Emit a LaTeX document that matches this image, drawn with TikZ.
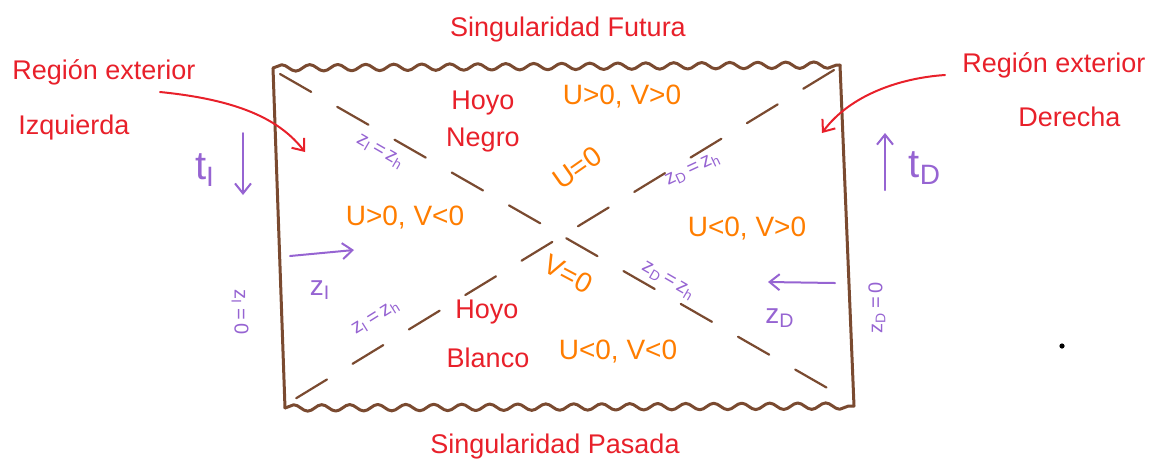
\documentclass[tikz,border=0pt]{standalone}
\usepackage{fontspec}
\setmainfont{Liberation Sans}
\usetikzlibrary{decorations.pathmorphing,arrows.meta}
\definecolor{brn}{RGB}{122,74,48}
\definecolor{rd}{RGB}{232,32,42}
\definecolor{org}{RGB}{255,125,0}
\definecolor{pur}{RGB}{150,100,210}
\begin{document}
\begin{tikzpicture}[x=0.5pt,y=-0.5pt,
  edge/.style={brn, line width=1.5pt, line cap=round, line join=round},
  wavy/.style={edge, decorate, decoration={snake, amplitude=1.6pt, segment length=14pt}},
  horizon/.style={brn, line width=1.1pt, dash pattern=on 18pt off 15pt, line cap=round},
  rlab/.style={rd, font=\fontsize{13.5}{15}\selectfont, inner sep=0pt},
  olab/.style={org, font=\fontsize{14}{16}\selectfont, inner sep=0pt},
  tlab/.style={pur, font=\fontsize{20}{22}\selectfont, inner sep=0pt},
  plab/.style={pur, font=\fontsize{14}{16}\selectfont, inner sep=0pt},
  slab/.style={pur, font=\fontsize{10}{12}\selectfont, inner sep=0pt},
  parrow/.style={pur, line width=1pt, line cap=round, -{Straight Barb[length=5pt,width=8pt]}},
  rarrow/.style={rd, line width=1pt, line cap=round, -{Straight Barb[length=5pt,width=8pt]}}]
\useasboundingbox (0,0) rectangle (1168,468);
% corners
\coordinate (TL) at (273,68);
\coordinate (TR) at (840,65);
\coordinate (BR) at (854,406);
\coordinate (BL) at (285,408);
% frame
\draw[edge] (TL) -- (BL);
\draw[edge] (TR) -- (BR);
\draw[wavy] (TL) -- (TR);
\draw[wavy] (BL) -- (BR);
% horizons
\coordinate (d1a) at (280,74);
\coordinate (d1b) at (850,401);
\coordinate (d2a) at (834,70);
\coordinate (d2b) at (290,402);
\draw[horizon] (d1a) -- (d1b);
\draw[horizon] (d2a) -- (d2b);
% red labels
\node[rlab] (sf) at (568,30) {Singularidad Futura};
\node[rlab] (sp) at (555,447) {Singularidad Pasada};
\node[rlab, anchor=west] (rei1) at (12,72) {Región exterior};
\node[rlab, anchor=west] (rei2) at (18,128) {Izquierda};
\node[rlab, anchor=west] (red1) at (962,65) {Región exterior};
\node[rlab, anchor=west] (red2) at (1018,117) {Derecha};
\node[rlab] (hn1) at (483,103) {Hoyo};
\node[rlab] (hn2) at (483,140) {Negro};
\node[rlab] (hb1) at (487,312) {Hoyo};
\node[rlab] (hb2) at (488,358) {Blanco};
\coordinate (ral) at (160,92);
\coordinate (rar) at (945,75);
\coordinate (ratl) at (305,152);
\coordinate (ratr) at (822,133);
\draw[rarrow] (ral) .. controls (240,100) and (280,120) .. (ratl);
\draw[rarrow] (rar) .. controls (900,78) and (850,95) .. (ratr);
% orange labels
\node[olab] (upvp) at (622,97) {U>0, V>0};
\node[olab, rotate=35] (u0) at (577,168) {U=0};
\node[olab, rotate=-28] (v0) at (568,274) {V=0};
\node[olab] (upvn) at (405,218) {U>0, V<0};
\node[olab] (unvp) at (747,229) {U<0, V>0};
\node[olab] (unvn) at (618,352) {U<0, V<0};
% purple labels
\node[tlab] (tI) at (205,170) {t\textsubscript{I}};
\node[tlab] (tD) at (925,168) {t\textsubscript{D}};
\coordinate (tIa) at (243,133);
\coordinate (tIb) at (243,195);
\coordinate (tDa) at (885,190);
\coordinate (tDb) at (885,133);
\draw[parrow] (tIa) -- (tIb);
\draw[parrow] (tDa) -- (tDb);
\coordinate (zIa) at (290,256);
\coordinate (zIb) at (354,250);
\coordinate (zDa) at (835,283);
\coordinate (zDb) at (768,282);
\draw[parrow] (zIa) -- (zIb);
\draw[parrow] (zDa) -- (zDb);
\node[plab] (zI) at (320,290) {z\textsubscript{I}};
\node[plab] (zD) at (780,318) {z\textsubscript{D}};
\node[slab, rotate=-30] (hIt) at (380,152) {z\textsubscript{I}\,=\,z\textsubscript{h}};
\node[slab, rotate=32] (hIb) at (376,318) {z\textsubscript{I}\,=\,z\textsubscript{h}};
\node[slab, rotate=25] (hDt) at (693,170) {z\textsubscript{D}\,=\,z\textsubscript{h}};
\node[slab, rotate=-30] (hDb) at (668,281) {z\textsubscript{D}\,=\,z\textsubscript{h}};
\node[slab, rotate=-90] (zI0) at (240,312) {z\textsubscript{I}\,=\,0};
\node[slab, rotate=90] (zD0) at (877,308) {z\textsubscript{D}\,=\,0};
% dot
\fill (1062,346) circle (1.3pt);
\end{tikzpicture}
\end{document}
